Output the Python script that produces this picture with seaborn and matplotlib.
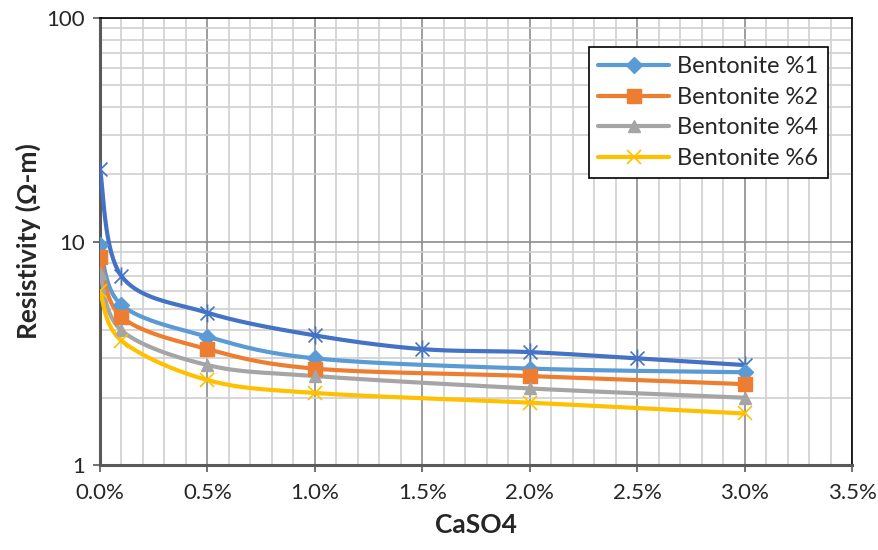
import numpy as np
import pandas as pd
import matplotlib
matplotlib.use("Agg")
import matplotlib.pyplot as plt
from matplotlib.path import Path
from matplotlib.lines import Line2D
from matplotlib.ticker import PercentFormatter, MultipleLocator, LogLocator, NullFormatter, FixedLocator
import seaborn as sns

# ---- data ----
x_main = [0.0, 0.001, 0.005, 0.010, 0.020, 0.030]
x_ref = [0.0, 0.001, 0.005, 0.010, 0.015, 0.020, 0.025, 0.030]
bent1 = [9.6, 5.2, 3.75, 3.0, 2.7, 2.6]
bent2 = [8.5, 4.6, 3.3, 2.7, 2.5, 2.3]
bent4 = [7.2, 4.0, 2.8, 2.5, 2.2, 2.0]
bent6 = [6.0, 3.6, 2.4, 2.1, 1.9, 1.7]
ref0 = [21.0, 7.0, 4.8, 3.8, 3.3, 3.2, 3.0, 2.8]
labels = ["Bentonite %1", "Bentonite %2", "Bentonite %4", "Bentonite %6"]
x_ticks = [0.0, 0.005, 0.010, 0.015, 0.020, 0.025, 0.030, 0.035]

sns.set_theme(style="white")
plt.rcParams['font.family'] = ['Lato', 'DejaVu Sans']

colors = ["#5B9BD5", "#ED7D31", "#A5A5A5", "#FFC000"]
markers = ["D", "s", "^", "x"]
msizes = [8, 10, 9, 10]

star = Path([(-1, -1), (1, 1), (-1, 1), (1, -1), (0, -1.3), (0, 1.3)],
            [Path.MOVETO, Path.LINETO, Path.MOVETO, Path.LINETO, Path.MOVETO, Path.LINETO])

fig = plt.figure(figsize=(8.79, 5.5), dpi=100)
ax = fig.add_axes([100/879, 1-465/550, (852-100)/879, (465-18)/550])
ax.set_yscale("log")
ax.set_xlim(0, 0.035)
ax.set_ylim(1, 100)


def smooth(xs, ys, n=40):
    # Bezier smoothing in screen-like space (x linear, y log)
    X = np.asarray(xs) / 0.035 * 752
    Y = np.log10(np.asarray(ys)) * 223.5
    P = np.column_stack([X, Y])
    out = [P[0]]
    m = len(P)
    for i in range(m - 1):
        p0 = P[i - 1] if i > 0 else P[i]
        p1, p2 = P[i], P[i + 1]
        p3 = P[i + 2] if i + 2 < m else P[i + 1]
        c1 = p1 + (p2 - p0) / 6
        c2 = p2 - (p3 - p1) / 6
        t = np.linspace(0, 1, n)[1:, None]
        b = ((1 - t) ** 3) * p1 + 3 * ((1 - t) ** 2) * t * c1 + 3 * (1 - t) * t ** 2 * c2 + t ** 3 * p2
        out.extend(b)
    out = np.array(out)
    return out[:, 0] / 752 * 0.035, 10 ** (out[:, 1] / 223.5)


series = [(x_ref, ref0, "#4472C4", star, 13, "ref")]
for lab, ys, c, mk, ms in zip(labels, [bent1, bent2, bent4, bent6], colors, markers, msizes):
    series.append((x_main, ys, c, mk, ms, lab))

for xs, ys, c, mk, ms, lab in series:
    sx, sy = smooth(xs, ys)
    df = pd.DataFrame({"x": sx, "y": sy})
    sns.lineplot(data=df, x="x", y="y", ax=ax, color=c, lw=3, sort=False,
                 estimator=None, zorder=3, legend=False)
    if mk == "x" or mk is star:
        ax.plot(xs, ys, ls="none", marker=mk, ms=ms, mec=c, mfc="none", mew=1.2, zorder=4)
    else:
        ax.plot(xs, ys, ls="none", marker=mk, ms=ms, mec=c, mfc=c, zorder=4)

# grid
ax.xaxis.set_major_locator(FixedLocator(x_ticks))
ax.xaxis.set_minor_locator(MultipleLocator(0.001))
ax.xaxis.set_major_formatter(PercentFormatter(xmax=1, decimals=1))
ax.yaxis.set_major_locator(LogLocator(base=10, numticks=10))
ax.yaxis.set_minor_locator(LogLocator(base=10, subs=np.arange(2, 10), numticks=20))
ax.yaxis.set_minor_formatter(NullFormatter())
ax.yaxis.set_major_formatter(matplotlib.ticker.FuncFormatter(lambda v, p: f"{v:g}"))
ax.grid(which="minor", color="#d0d0d0", lw=1.2, zorder=0)
ax.grid(which="major", color="#8c8c8c", lw=1.2, zorder=0)
ax.set_axisbelow(True)

ax.tick_params(axis="both", which="major", labelsize=16, length=5, width=1.2,
               color="#595959", direction="out", bottom=True, left=True)
ax.tick_params(axis="both", which="minor", length=0)
ax.tick_params(axis="x", pad=8)
ax.tick_params(axis="y", pad=6)
for sp in ["top", "right"]:
    ax.spines[sp].set_color("black")
    ax.spines[sp].set_linewidth(1.2)
for sp in ["left", "bottom"]:
    ax.spines[sp].set_color("#595959")
    ax.spines[sp].set_linewidth(2.2)

ax.set_xlabel("CaSO4", fontsize=19, fontweight="bold", labelpad=7)
ax.set_ylabel("Resistivity (Ω-m)", fontsize=19, fontweight="bold", labelpad=4)

handles = []
for lab, c, mk, ms in zip(labels, colors, markers, msizes):
    if mk == "x":
        handles.append(Line2D([], [], color=c, lw=3, marker=mk, ms=ms, mec=c, mfc="none", mew=1.2))
    else:
        handles.append(Line2D([], [], color=c, lw=3, marker=mk, ms=ms, mec=c, mfc=c))
leg = ax.legend(handles, labels, loc="upper right", bbox_to_anchor=(0.968, 0.935),
                fontsize=17, frameon=True, fancybox=False, edgecolor="black",
                framealpha=1, handlelength=3.0, labelspacing=0.4, borderpad=0.4,
                handletextpad=0.35, borderaxespad=0)
leg.get_frame().set_linewidth(1.2)

fig.savefig("out.png", dpi=100)
